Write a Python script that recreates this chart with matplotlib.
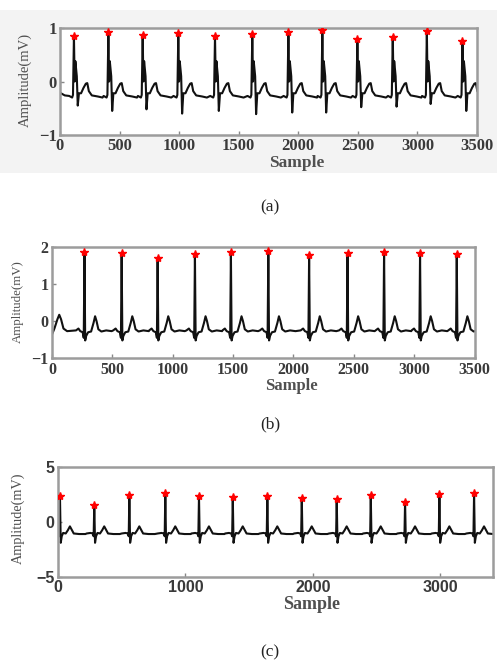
import numpy as np
import matplotlib
matplotlib.use("Agg")
import matplotlib.pyplot as plt
from matplotlib.patches import Rectangle

# ---------------- data ----------------
# Panel (a)
a_r_pos = [117, 406, 694, 993, 1301, 1614, 1917, 2202, 2496, 2793, 3079, 3378]
a_r_amp = [0.85, 0.92, 0.87, 0.90, 0.85, 0.89, 0.93, 0.96, 0.79, 0.84, 0.95, 0.76]
a_s_amp = [-0.45, -0.55, -0.52, -0.60, -0.55, -0.61, -0.58, -0.58, -0.48, -0.47, -0.42, -0.55]
a_beat_off = [-40, -15, -8, 0, 6, 12, 18, 24, 32, 42, 60, 80, 100, 112, 125, 150, 200, 240]
a_beat_val = [-0.27, -0.30, -0.25, 'R', 0.0, 0.38, 0.25, 0.10, 'S', -0.22, -0.22, -0.12,
              -0.04, -0.03, -0.18, -0.26, -0.28, -0.30]
a_start_x = [0, 40]
a_start_v = [-0.21, -0.26]

# Panel (b)
b_r_pos = [269, 577, 875, 1184, 1482, 1792, 2130, 2448, 2751, 3049, 3353]
b_r_amp = [1.85, 1.83, 1.70, 1.81, 1.86, 1.88, 1.77, 1.83, 1.85, 1.83, 1.81]
b_beat_off = [-70, -50, -35, -15, -6, 0, 6, 14, 30, 55, 75, 88, 100, 115, 140, 180, 225]
b_beat_val = [-0.25, -0.20, -0.27, -0.30, -0.45, 'R', -0.52, -0.40, -0.30, -0.28, -0.05,
              0.13, 0.0, -0.22, -0.28, -0.25, -0.27]
b_start_x = [0, 20, 45, 60, 75, 95, 125]
b_start_v = [-0.36, -0.20, 0.05, 0.17, 0.05, -0.20, -0.27]

# Panel (c)
c_r_pos = [17, 286, 561, 843, 1107, 1372, 1643, 1913, 2187, 2454, 2723, 2992, 3264]
c_r_amp = [2.38, 1.56, 2.47, 2.63, 2.38, 2.26, 2.38, 2.22, 2.10, 2.47, 1.86, 2.53, 2.63]
c_beat_off = [-60, -30, -12, -5, 0, 6, 14, 25, 45, 62, 78, 92, 108, 150, 200]
c_beat_val = [-1.05, -1.0, -1.05, -1.3, 'R', -1.9, -1.3, -1.0, -1.05, -0.75, -0.40,
              -0.70, -1.05, -1.10, -1.10]

a_xticks = [0, 500, 1000, 1500, 2000, 2500, 3000, 3500]
b_xticks = [0, 500, 1000, 1500, 2000, 2500, 3000, 3500]
c_xticks = [0, 1000, 2000, 3000]
a_yticks = [-1, 0, 1]
b_yticks = [-1, 0, 1, 2]
c_yticks = [-5, 0, 5]


def build_trace(r_pos, r_amp, offs, vals, s_amp=None, start_x=(), start_v=()):
    xs, ys = list(start_x), list(start_v)
    for i, r in enumerate(r_pos):
        for o, v in zip(offs, vals):
            if v == 'R':
                v = r_amp[i]
            elif v == 'S':
                v = s_amp[i]
            xs.append(r + o)
            ys.append(v)
    return np.array(xs, float), np.array(ys, float)


W, H = 497, 664
fig = plt.figure(figsize=(W / 100, H / 100), dpi=100)
fig.patches.append(Rectangle((0, 1 - 173 / H), 1, (173 - 10) / H, transform=fig.transFigure,
                             facecolor='#f3f3f3', edgecolor='none', zorder=-10))


def px_axes(l, r, t, b):
    return fig.add_axes([l / W, 1 - b / H, (r - l) / W, (b - t) / H])


SERIF = 'Liberation Serif'
SANS = 'Liberation Sans'
SPINE = '#9c9c9c'
TXT = '#3a3a3a'


def style(ax, xlim, ylim, xt, yt, tickfont, tsize, xl_pos, xl_size, yl_pos, yl_size, pad=3):
    ax.set_xlim(*xlim)
    ax.set_ylim(*ylim)
    ax.set_xticks(xt)
    ax.set_yticks(yt)
    for s in ax.spines.values():
        s.set_color(SPINE)
        s.set_linewidth(1.8)
    ax.tick_params(direction='in', length=3, width=1, color='#888888', pad=pad,
                   labelcolor=TXT, labelsize=tsize)
    for lab in ax.get_xticklabels() + ax.get_yticklabels():
        lab.set_fontfamily(tickfont)
        lab.set_fontweight('bold')
    ax.set_xlabel('Sample', fontfamily=SERIF, fontweight='bold', fontsize=xl_size, color='#505050')
    ax.xaxis.set_label_coords(*xl_pos)
    ax.xaxis.label.set_va('center')
    ax.set_ylabel('Amplitude(mV)', fontfamily=SERIF, fontsize=yl_size, color='#505050')
    ax.yaxis.set_label_coords(*yl_pos)
    ax.yaxis.label.set_va('center')


LINE = dict(color='#111111', lw=1.5, solid_joinstyle='round')
STAR = dict(marker='*', color='red', ls='none', ms=6, zorder=5)

# (a)
ax = px_axes(60, 477, 28, 135)
x, y = build_trace(a_r_pos, a_r_amp, a_beat_off, a_beat_val, a_s_amp, a_start_x, a_start_v)
ax.plot(x, y, **LINE)
ax.plot(a_r_pos, a_r_amp, **STAR)
style(ax, (0, 3500), (-1, 1), a_xticks, a_yticks, SERIF, 12,
      (0.568, -0.262), 12.5, (-0.084, 0.514), 10.5, pad=2.5)

# (b)
ax = px_axes(52, 474.5, 246.7, 358.3)
x, y = build_trace(b_r_pos, b_r_amp, b_beat_off, b_beat_val, None, b_start_x, b_start_v)
ax.plot(x, y, **LINE)
ax.plot(b_r_pos, b_r_amp, **STAR)
style(ax, (0, 3500), (-1, 2), b_xticks, b_yticks, SERIF, 11.5,
      (0.567, -0.25), 12, (-0.080, 0.507), 9.3, pad=2.5)

# (c)
ax = px_axes(57.8, 492.7, 467.3, 576.7)
x, y = build_trace(c_r_pos, c_r_amp, c_beat_off, c_beat_val)
ax.plot(x, y, **LINE)
ax.plot(c_r_pos, c_r_amp, **STAR)
style(ax, (0, 3410), (-5, 5), c_xticks, c_yticks, SANS, 11.5,
      (0.584, -0.258), 13, (-0.091, 0.534), 10.3, pad=2.5)

# captions
for lab, yc in [('(a)', 207), ('(b)', 424), ('(c)', 652)]:
    fig.text(270 / W, 1 - yc / H, lab, ha='center', va='center', fontfamily=SERIF,
             fontsize=12.5, color='#222222')

fig.savefig('out.png', dpi=100)
